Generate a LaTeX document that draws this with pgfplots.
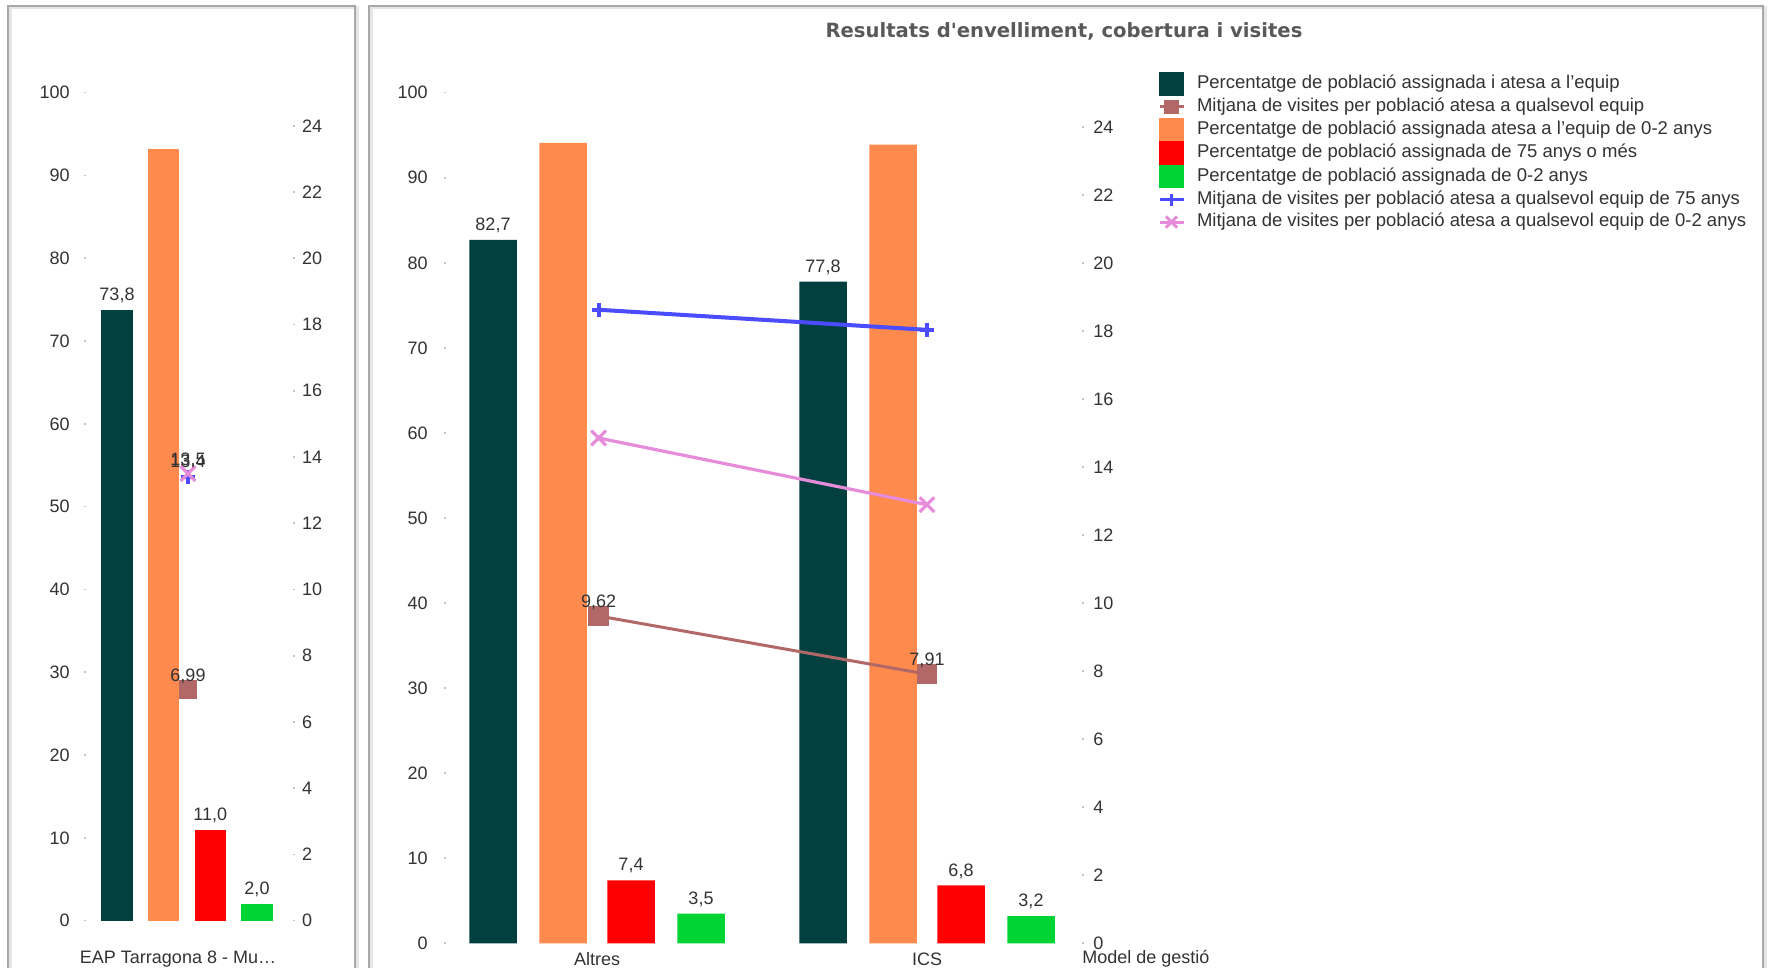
\documentclass[border=0pt]{standalone}
\usepackage{pgfplots}
\pgfplotsset{compat=1.18}
\usepackage{fontspec}
\setmainfont{Liberation Sans}
\newfontfamily\titlefont{DejaVu Sans}
\definecolor{cTeal}{HTML}{024040}
\definecolor{cOrange}{HTML}{FF8A4D}
\definecolor{cRed}{HTML}{FF0000}
\definecolor{cGreen}{HTML}{00D435}
\definecolor{cBrown}{HTML}{B36868}
\definecolor{cBlue}{HTML}{4B4BFF}
\definecolor{cPink}{HTML}{E68CDA}
\definecolor{cText}{HTML}{333333}
\definecolor{cTitle}{HTML}{595959}
\definecolor{cFrame}{HTML}{A8A8A8}

\pgfplotsset{
  base/.style={
    scale only axis,
    axis line style={draw=none},
    tick style={draw=gray!45, line width=0.8pt},
    major tick length=1.2pt,
    tick align=outside,
    ymin=0,
    font=\fontsize{9}{10}\selectfont,
    ticklabel style={text=cText},
    /pgf/number format/assume math mode=true,
    xtick style={draw=none},
    xtick pos=bottom,
    clip=false,
  },
  lab1/.style={nodes near coords={\pgfmathprintnumber[fixed,fixed zerofill,precision=1,use comma]{\pgfplotspointmeta}},
    every node near coord/.append style={font=\fontsize{9}{10}\selectfont, text=cText, xshift=#1}},
  lab2/.style={nodes near coords={\pgfmathprintnumber[fixed,fixed zerofill,precision=2,use comma]{\pgfplotspointmeta}},
    every node near coord/.append style={font=\fontsize{9}{10}\selectfont, text=cText, anchor=south, yshift=-1pt}},
  sqleg/.style={legend image code/.code={\fill[##1] (0pt,-5.65pt) rectangle (12pt,5.65pt);}},
  lnleg/.style={legend image code/.code={\draw[mark repeat=2,mark phase=2,##1] plot coordinates {(0pt,0pt) (6pt,0pt) (12pt,0pt)};}},
}

\begin{document}
\begin{tikzpicture}
\path[use as bounding box] (0,0) rectangle (884.5pt,484pt);
\fill[white] (0,0) rectangle (884.5pt,484pt);
% panel frames
\draw[gray!20, line width=1.5pt] (5pt,-6pt) rectangle (178.5pt,480pt);
\draw[cFrame, line width=1pt] (4pt,-5pt) rectangle (177.5pt,481pt);
\draw[gray!20, line width=1.5pt] (185.5pt,-6pt) rectangle (882.5pt,480pt);
\draw[cFrame, line width=1pt] (184.5pt,-5pt) rectangle (881.5pt,481pt);

\node[text=cTitle, font=\titlefont\bfseries\fontsize{9.8}{12}\selectfont] at (532pt,468.5pt) {Resultats d'envelliment, cobertura i visites};

% ---------------- left panel: bars ----------------
\begin{axis}[base, at={(43pt,23.65pt)}, anchor=south west, width=103.35pt, height=414pt,
  xmin=-101, xmax=105.7, ymax=100, ytick={0,10,...,100},
  ytick pos=left, yticklabel style={xshift=-3.5pt},
  xtick={0}, xticklabels={{EAP Tarragona 8 - Mu\ldots}},
  xticklabel style={anchor=center, yshift=-18.15pt, xshift=-4.5pt, text=cText}]
\addplot[ybar, bar width=15.75pt, bar shift=-35pt, fill=cTeal, draw=none, lab1=-35pt] coordinates {(0,73.8)};
\addplot[ybar, bar width=15.75pt, bar shift=-11.65pt, fill=cOrange, draw=none] coordinates {(0,93.2)};
\addplot[ybar, bar width=15.75pt, bar shift=11.65pt, fill=cRed, draw=none, lab1=11.65pt] coordinates {(0,11.0)};
\addplot[ybar, bar width=15.75pt, bar shift=35pt, fill=cGreen, draw=none, lab1=35pt] coordinates {(0,2.0)};
\end{axis}
% ---------------- left panel: lines (right axis) ----------------
\begin{axis}[base, at={(43pt,23.65pt)}, anchor=south west, width=103.35pt, height=414pt,
  xmin=-101, xmax=105.7, ymax=25, ytick={0,2,...,24},
  ytick pos=right, yticklabel pos=right, xtick=\empty]
\addplot[cBrown, mark=square*, mark size=4.4pt, lab2] coordinates {(1,6.99)};
\addplot[cBlue, line width=2pt, mark=+, mark size=3.5pt, lab2, nodes near coords={\pgfmathprintnumber[fixed,fixed zerofill,precision=1,use comma]{\pgfplotspointmeta}}] coordinates {(1,13.4)};
\addplot[cPink, line width=1.6pt, mark=x, mark size=5.2pt, lab2, nodes near coords={\pgfmathprintnumber[fixed,fixed zerofill,precision=1,use comma]{\pgfplotspointmeta}}] coordinates {(1,13.5)};
\end{axis}

% ---------------- right panel: bars ----------------
\begin{axis}[base, at={(223pt,12.35pt)}, anchor=south west, width=318pt, height=425.3pt,
  xmin=-0.4576, xmax=1.4697, ymax=100, ytick={0,10,...,100},
  ytick pos=left, yticklabel style={xshift=-4.5pt},
  xtick={0,1}, xticklabels={Altres,ICS},
  xticklabel style={anchor=center, yshift=-6.85pt, text=cText},
  xlabel={Model de gestió},
  xlabel style={at={(rel axis cs:1,0)}, anchor=west, yshift=-7.6pt, inner sep=0pt, text=cText, font=\fontsize{9}{10}\selectfont},
  legend style={at={(1.1195,1.0243)}, anchor=north west, draw=none, fill=none,
    inner sep=0pt, outer sep=0pt, row sep=0pt,
    font=\fontsize{9.25}{11}\selectfont,
    nodes={inner sep=0pt, anchor=west, minimum height=11.3pt, text height=6.6pt, text depth=1.9pt, text=cText},
    /tikz/every odd column/.append style={column sep=6pt}},
  legend cell align=left]
\addplot[forget plot, ybar, bar width=23.75pt, bar shift=-52pt, fill=cTeal, draw=none, lab1=-52pt] coordinates {(0,82.7) (1,77.8)};
\addplot[forget plot, ybar, bar width=23.75pt, bar shift=-17pt, fill=cOrange, draw=none] coordinates {(0,94.1) (1,93.9)};
\addplot[forget plot, ybar, bar width=23.75pt, bar shift=17pt, fill=cRed, draw=none, lab1=17pt] coordinates {(0,7.4) (1,6.8)};
\addplot[forget plot, ybar, bar width=23.75pt, bar shift=52pt, fill=cGreen, draw=none, lab1=52pt] coordinates {(0,3.5) (1,3.2)};
\addlegendimage{sqleg, cTeal}
\addlegendentry{Percentatge de població assignada i atesa a l'equip}
\addlegendimage{lnleg, cBrown, line width=1.5pt, mark=square*, mark size=2.8pt}
\addlegendentry{Mitjana de visites per població atesa a qualsevol equip}
\addlegendimage{sqleg, cOrange}
\addlegendentry{Percentatge de població assignada atesa a l'equip de 0-2 anys}
\addlegendimage{sqleg, cRed}
\addlegendentry{Percentatge de població assignada de 75 anys o més}
\addlegendimage{sqleg, cGreen}
\addlegendentry{Percentatge de població assignada de 0-2 anys}
\addlegendimage{lnleg, cBlue, line width=1.5pt, mark=+, mark size=3pt}
\addlegendentry{Mitjana de visites per població atesa a qualsevol equip de 75 anys}
\addlegendimage{lnleg, cPink, line width=1.5pt, mark=x, mark size=4pt}
\addlegendentry{Mitjana de visites per població atesa a qualsevol equip de 0-2 anys}
\end{axis}
% ---------------- right panel: lines (right axis) ----------------
\begin{axis}[base, at={(223pt,12.35pt)}, anchor=south west, width=318pt, height=425.3pt,
  xmin=-0.4576, xmax=1.4697, ymax=25, ytick={0,2,...,24},
  ytick pos=right, yticklabel pos=right, yticklabel style={xshift=1pt}, xtick=\empty]
\addplot[cBrown, line width=1.5pt, mark=square*, mark size=4.4pt, lab2] coordinates {(0.005,9.62) (1,7.91)};
\addplot[cBlue, line width=2pt, mark=+, mark size=3.5pt] coordinates {(0.005,18.62) (1,18.03)};
\addplot[cPink, line width=1.6pt, mark=x, mark size=5.2pt] coordinates {(0.005,14.85) (1,12.89)};
\end{axis}
\end{tikzpicture}
\end{document}
